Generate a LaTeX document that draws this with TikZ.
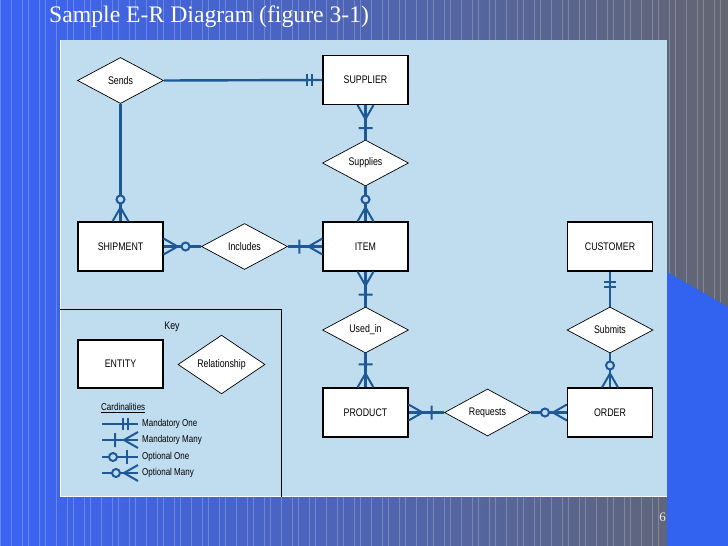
\documentclass[tikz,border=0pt]{standalone}
\usepackage{fontspec}
\usetikzlibrary{shapes.geometric}
\newfontfamily\erfont[FakeStretch=0.8]{Liberation Sans}
\newfontfamily\ttlfont{Liberation Serif}
\definecolor{bgL}{RGB}{58,100,245}
\definecolor{bgM}{RGB}{76,96,172}
\definecolor{bgR}{RGB}{99,101,112}
\definecolor{polyblue}{RGB}{50,98,240}
\definecolor{panelc}{RGB}{192,221,240}
\definecolor{erblue}{RGB}{30,88,150}
\tikzset{
  stripe/.style={draw=white, opacity=0.22, line width=0.8pt},
  entity/.style={draw=black, fill=white, line width=1.1pt, minimum width=85pt, minimum height=49pt, inner sep=0pt, font=\erfont\fontsize{11}{12}\selectfont},
  rel/.style={diamond, draw=black, fill=white, line width=0.7pt, minimum width=86pt, minimum height=46pt, inner sep=0pt, font=\erfont\fontsize{11}{12}\selectfont},
  conn/.style={draw=erblue, line width=2.4pt},
  mk/.style={draw=erblue, line width=2pt},
  keytxt/.style={anchor=west, inner sep=0pt, font=\erfont\fontsize{10}{11}\selectfont},
  pics/mone/.style={code={\draw[mk] (10,-6) -- (10,6) (15,-6) -- (15,6);}},
  pics/mmany/.style={code={\draw[mk] (0,-8) -- (14,0) -- (0,8) (23,-7) -- (23,7);}},
  pics/omany/.style={code={\draw[mk] (0,-8) -- (14,0) -- (0,8); \draw[mk, fill=panelc] (22,0) circle (4);}},
  pics/oone/.style={code={\draw[mk] (11,-7) -- (11,7); \draw[mk, fill=panelc] (25,0) circle (4);}},
}
\begin{document}
\begin{tikzpicture}[x=1pt,y=-1pt]
\useasboundingbox (0,0) rectangle (728,546);
% background
\shade[left color=bgL, middle color=bgM, right color=bgR] (0,0) rectangle (728,546);
\foreach \i in {0,...,81} {
  \pgfmathsetmacro\xx{\i*9+mod(\i*37,5)}
  \draw[stripe] (\xx,0) -- (\xx,546);
}
\fill[polyblue] (667,272) -- (728,307) -- (728,546) -- (667,546) -- cycle;
% title and page number
\node[anchor=base west, inner sep=0pt, text=white, font=\ttlfont\fontsize{23.7}{26}\selectfont] (title) at (49,23) {Sample E-R Diagram (figure 3-1)};
\node[anchor=base east, inner sep=0pt, text=white!85!gray, font=\ttlfont\fontsize{13}{14}\selectfont] (pg) at (666,521) {6};
% panel
\fill[panelc] (60,40) rectangle (667,497);
\draw[white, line width=1pt] (60.5,40) -- (60.5,496.5) -- (667,496.5);
% key box
\draw[black, line width=0.8pt] (60,309) -- (281,309) -- (281,497);

% entities
\node[entity] (supplier) at (365.5,80) {SUPPLIER};
\node[entity] (shipment) at (120.5,246.5) {SHIPMENT};
\node[entity] (item) at (365.5,246.5) {ITEM};
\node[entity] (customer) at (610,246.5) {CUSTOMER};
\node[entity] (product) at (365.5,412.5) {PRODUCT};
\node[entity] (order) at (610,412.5) {ORDER};
% relationships
\node[rel] (sends) at (120.5,80.5) {Sends};
\node[rel] (supplies) at (365.5,163) {Supplies};
\node[rel] (includes) at (244.5,246.5) {Includes};
\node[rel] (usedin) at (365.5,330) {Used\_in};
\node[rel] (submits) at (610,330) {Submits};
\node[rel] (requests) at (487.5,412.5) {Requests};

% connectors
\draw[conn] (sends.east) -- (supplier.west);
\draw[conn] (sends.south) -- (shipment.north);
\draw[conn] (supplier.south) -- (supplies.north);
\draw[conn] (supplies.south) -- (item.north);
\draw[conn] (shipment.east) -- (includes.west);
\draw[conn] (includes.east) -- (item.west);
\draw[conn] (item.south) -- (usedin.north);
\draw[conn] (usedin.south) -- (product.north);
\draw[conn] (product.east) -- (requests.west);
\draw[conn] (requests.east) -- (order.west);
\draw[conn] (customer.south) -- (submits.north);
\draw[conn] (submits.south) -- (order.north);

% cardinality marks
\pic[rotate=180] at (supplier.west) {mone};
\pic[rotate=90] at (shipment.north) {omany};
\pic[rotate=-90] at (supplier.south) {mmany};
\pic[rotate=90] at (item.north) {omany};
\pic at (shipment.east) {omany};
\pic[rotate=180] at (item.west) {mmany};
\pic[rotate=-90] at (item.south) {mmany};
\pic[rotate=90] at (product.north) {mmany};
\pic at (product.east) {mmany};
\pic[rotate=180] at (order.west) {omany};
\pic[rotate=-90] at (customer.south) {mone};
\pic[rotate=90] at (order.north) {omany};

% key
\node[inner sep=0pt, font=\erfont\fontsize{11}{12}\selectfont] (keylbl) at (172,327) {Key};
\node[entity, minimum height=48pt] (kentity) at (120.5,364) {ENTITY};
\node[rel, minimum width=87pt, minimum height=47pt] (krel) at (221.5,364.5) {Relationship};
\node[keytxt] (kcard) at (101,408) {\underline{Cardinalities}};
\foreach \y/\nm/\p/\t in {424/a/mone/Mandatory One, 440/b/mmany/Mandatory Many, 457/c/oone/Optional One, 473/d/omany/Optional Many} {
  \coordinate (k\nm1) at (102,\y);
  \coordinate (k\nm2) at (138,\y);
  \draw[conn, line width=2pt] (k\nm1) -- (k\nm2);
  \pic[rotate=180] at (k\nm2) {\p};
  \node[keytxt] (kt\nm) at (142,\y) {\t};
}
\end{tikzpicture}
\end{document}
